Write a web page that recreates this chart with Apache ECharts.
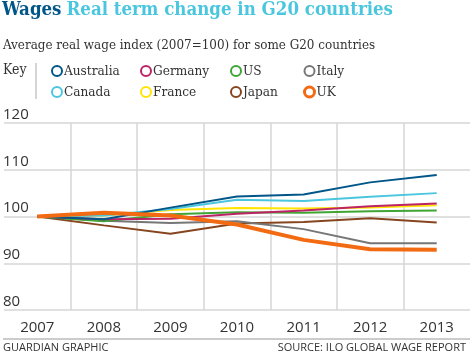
<!DOCTYPE html>
<html>
<head>
<meta charset="utf-8">
<script src="https://cdn.jsdelivr.net/npm/echarts@6/dist/echarts.min.js"></script>
<style>
  html, body { margin: 0; padding: 0; background: #fff; }
  #chart { width: 475px; height: 354px; }
</style>
</head>
<body>
<div id="chart"></div>
<script>
// Average real wage index (2007 = 100)
const years = ['2007', '2008', '2009', '2010', '2011', '2012', '2013']
const yTicks = [80, 90, 100, 110, 120]

const australia = [100, 99.4, 101.9, 104.3, 104.7, 107.3, 108.9]
const canada    = [100, 100.2, 101.6, 103.6, 103.3, 104.2, 105.0]
const germany   = [100, 99.4, 99.5, 100.6, 101.3, 102.2, 102.8]
const us        = [100, 99.0, 100.5, 100.9, 100.8, 101.1, 101.3]
const italy     = [100, 99.1, 98.6, 99.0, 97.3, 94.3, 94.3]
const france    = [100, 100.2, 101.4, 101.8, 101.7, 101.9, 102.4]
const japan     = [100, 98.1, 96.3, 98.5, 98.8, 99.6, 98.7]
const uk        = [100, 100.8, 100.2, 98.3, 95.0, 93.0, 92.9]

const colors = {
    Australia: '#005689',
    Canada:    '#4bc6df',
    Germany:   '#bc2466',
    France:    '#ffe500',
    US:        '#3fa535',
    Japan:     '#86451e',
    Italy:     '#767676',
    UK:        '#f26b12',
}

const values = {
    Australia: australia, Canada: canada, Germany: germany, France: france,
    US: us, Japan: japan, Italy: italy, UK: uk,
}

// draw order: UK on top
const drawOrder = ['Japan', 'Italy', 'US', 'France', 'Germany', 'Canada', 'Australia', 'UK']

const serif = "'DejaVu Serif Condensed', 'DejaVu Serif', serif"
const sans  = "'Open Sans', 'Noto Sans', sans-serif"

// one legend per column so the columns line up like the original key
function legendCol(left, items) {
    return {
        left, top: 64,
        padding: 0,
        orient: 'vertical',
        itemGap: 7,
        itemWidth: 10, itemHeight: 10,
        icon: 'circle',
        selectedMode: false,
        data: items.map(n => ({
            name: n,
            itemStyle: { color: '#fff', borderColor: colors[n], borderWidth: n === 'UK' ? 3 : 2 },
        })),
        textStyle: { fontFamily: serif, fontSize: 13.5, color: '#333', padding: [0, 0, 0, -3] },
    }
}

const chart = echarts.init(document.getElementById('chart'), null, { renderer: 'canvas' })

chart.setOption({
    animation: false,
    title: [
        {
            left: 2, top: 1, padding: 0,
            text: '{a|Wages} {b|Real term change in G20 countries}',
            textStyle: {
                rich: {
                    a: { fontFamily: serif, fontWeight: 'bold', fontSize: 18.5, color: '#005689' },
                    b: { fontFamily: serif, fontWeight: 'bold', fontSize: 18.5, color: '#4bc6df' },
                },
            },
        },
        {
            left: 3, top: 39, padding: 0,
            text: 'Average real wage index (2007=100) for some G20 countries',
            textStyle: { fontFamily: serif, fontWeight: 'normal', fontSize: 13.3, color: '#333' },
        },
    ],
    legend: [
        legendCol(51, ['Australia', 'Canada']),
        legendCol(140, ['Germany', 'France']),
        legendCol(230, ['US', 'Japan']),
        legendCol(303, ['Italy', 'UK']),
    ],
    grid: { left: 4, right: 5, top: 123, bottom: 44 },
    xAxis: {
        type: 'category',
        data: years,
        boundaryGap: true,
        axisLine: { show: false },
        axisTick: { show: false },
        axisLabel: { color: '#333', fontFamily: sans, fontSize: 15, margin: 10 },
        splitLine: { show: true, showMinLine: false, showMaxLine: false, lineStyle: { color: '#d6d6d6', width: 1.5 } },
    },
    yAxis: {
        type: 'value',
        min: yTicks[0], max: yTicks[yTicks.length - 1], interval: 10,
        axisLine: { show: false },
        axisTick: { show: false },
        axisLabel: {
            inside: true, margin: -1,
            verticalAlign: 'bottom', padding: [0, 0, 1, 0],
            color: '#333', fontFamily: sans, fontSize: 15,
        },
        splitLine: { lineStyle: { color: '#d6d6d6', width: 1.5 } },
    },
    series: drawOrder.map(n => ({
        name: n,
        type: 'line',
        data: values[n],
        symbol: 'none',
        color: colors[n],
        lineStyle: { color: colors[n], width: n === 'UK' ? 4 : 2 },
    })),
    graphic: [
        { type: 'text', left: 3, top: 63, style: { text: 'Key', font: `14px ${serif}`, fill: '#333' } },
        { type: 'line', shape: { x1: 36, y1: 63, x2: 36, y2: 99 }, style: { stroke: '#aaa', lineWidth: 1 } },
        { type: 'line', shape: { x1: 3, y1: 339, x2: 470, y2: 339 }, style: { stroke: '#999', lineWidth: 1 } },
        { type: 'text', left: 3, top: 342, style: { text: 'GUARDIAN GRAPHIC', font: `11px ${sans}`, fill: '#333' } },
        { type: 'text', right: 9, top: 342, style: { text: 'SOURCE: ILO GLOBAL WAGE REPORT', font: `11px ${sans}`, fill: '#333' } },
    ],
})
</script>
</body>
</html>
